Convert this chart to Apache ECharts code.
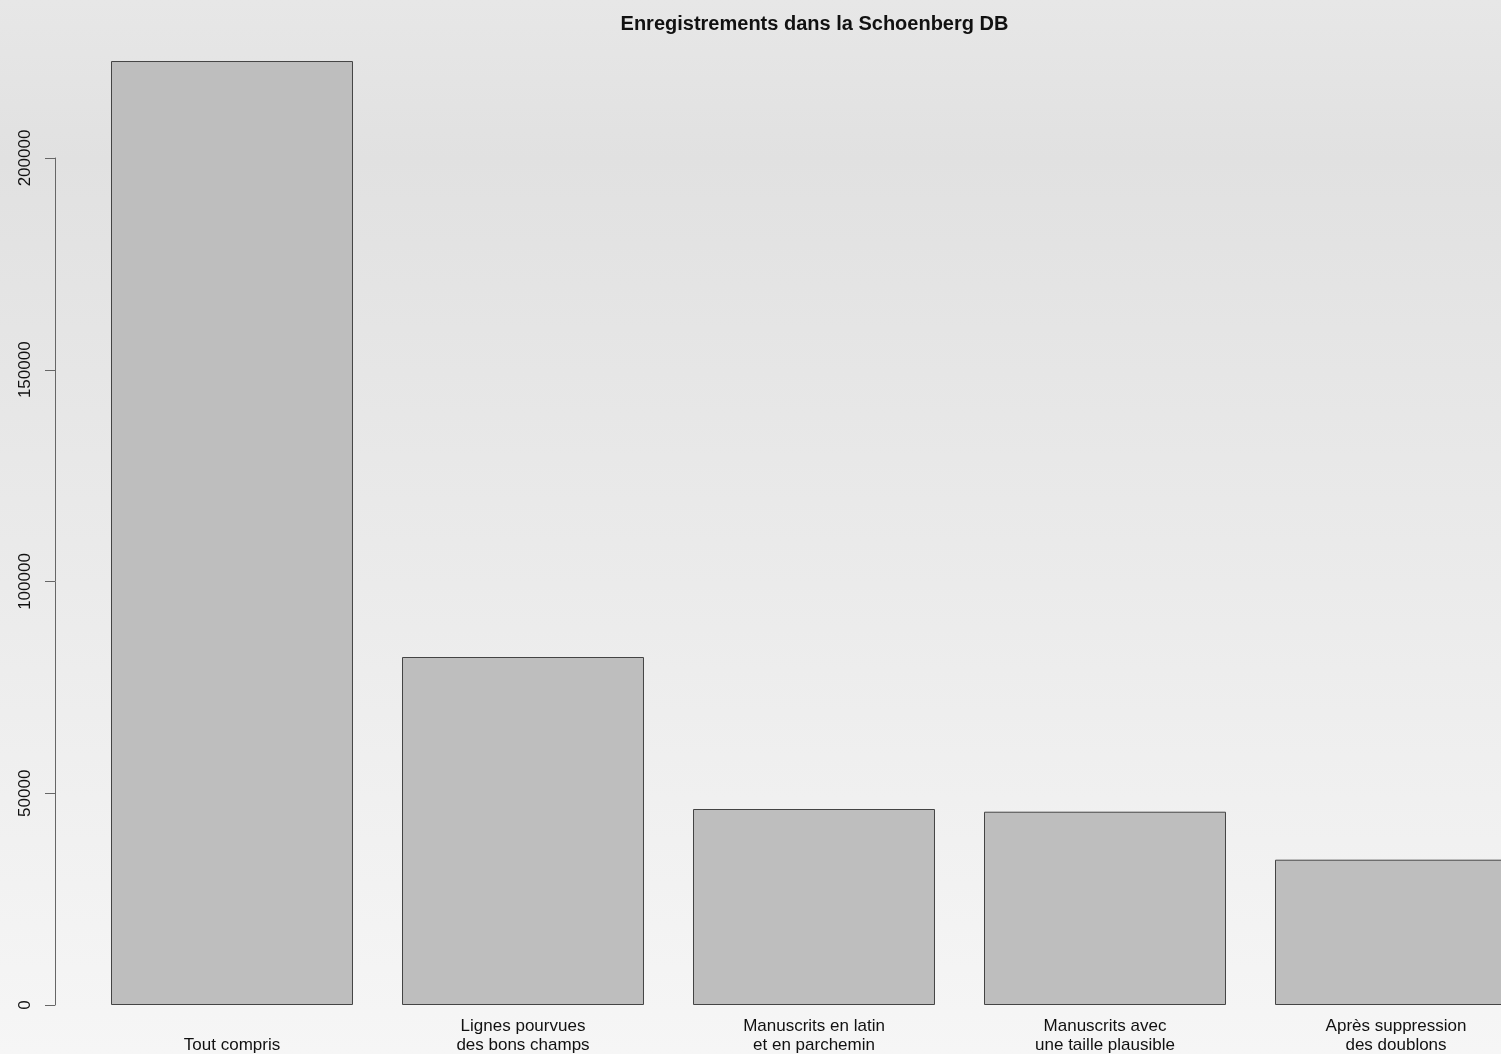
<!DOCTYPE html>
<html>
<head>
<meta charset="utf-8">
<script src="https://cdn.jsdelivr.net/npm/echarts@6/dist/echarts.min.js"></script>
<style>
html,body{margin:0;padding:0;}
#chart{width:1501px;height:1054px;}
</style>
</head>
<body>
<div id="chart"></div>
<script>
const titleText = "Enregistrements dans la Schoenberg DB";
const categories = [
  "Tout compris",
  "Lignes pourvues\ndes bons champs",
  "Manuscrits en latin\net en parchemin",
  "Manuscrits avec\nune taille plausible",
  "Après suppression\ndes doublons"
];
const values = [222900, 82170, 46280, 45640, 34310];
const yTicks = [0, 50000, 100000, 150000, 200000];

const chart = echarts.init(document.getElementById('chart'), null, {renderer: 'canvas'});
chart.setOption({
  animation: false,
  backgroundColor: {
    type: 'linear', x: 0, y: 0, x2: 0, y2: 1,
    colorStops: [
      {offset: 0, color: '#e7e7e7'},
      {offset: 0.15, color: '#e1e1e1'},
      {offset: 1, color: '#f6f6f6'}
    ]
  },
  title: {
    text: titleText,
    left: 809.5,
    top: 9,
    textAlign: 'center',
    textStyle: {fontFamily: 'Liberation Sans', fontWeight: 'bold', fontSize: 20, color: '#111'}
  },
  grid: {left: 86.5, right: -40.5, top: 158, bottom: 49, containLabel: false, outerBoundsMode: 'none'},
  xAxis: {
    type: 'category',
    data: categories,
    axisLine: {show: false},
    axisTick: {show: false},
    axisLabel: {
      interval: 0,
      fontFamily: 'Liberation Sans',
      fontSize: 17,
      lineHeight: 19,
      color: '#111',
      verticalAlign: 'bottom',
      margin: 50
    }
  },
  yAxis: {
    type: 'value',
    min: yTicks[0],
    max: yTicks[yTicks.length - 1],
    interval: 50000,
    offset: 31.5,
    splitLine: {show: false},
    axisLine: {show: true, lineStyle: {color: '#666', width: 1}},
    axisTick: {show: true, length: 10, lineStyle: {color: '#666', width: 1}},
    axisLabel: {
      rotate: 90,
      fontFamily: 'Liberation Sans',
      fontSize: 17,
      color: '#111',
      margin: 21,
      formatter: function (v) { return String(v); }
    }
  },
  series: [{
    type: 'bar',
    data: values,
    clip: false,
    barCategoryGap: '16.84%',
    itemStyle: {color: '#bebebe', borderColor: '#444', borderWidth: 1}
  }]
});
</script>
</body>
</html>
